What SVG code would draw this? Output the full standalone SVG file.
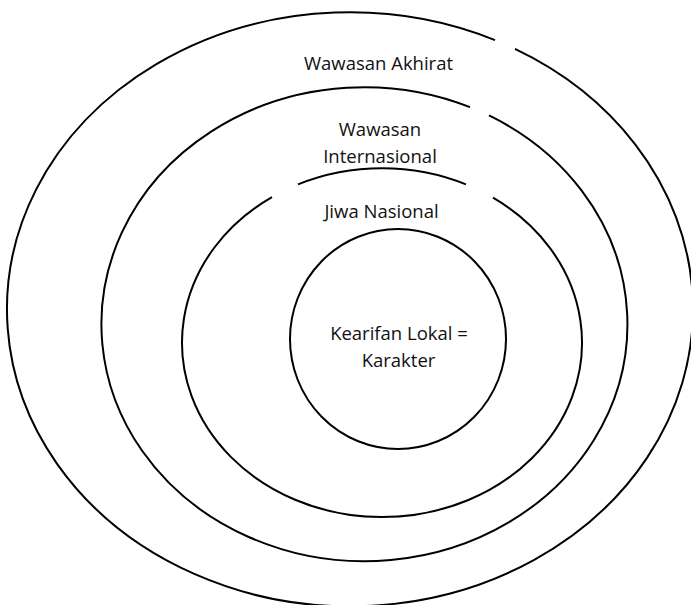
<svg xmlns="http://www.w3.org/2000/svg" width="691" height="605" viewBox="0 0 691 605">
  <style>
    .ring { fill: none; stroke: #000; stroke-width: 2; }
    .lbl { font-family: "Open Sans", "Liberation Sans", sans-serif; font-size: 18.5px; fill: #111; text-anchor: middle; }
  </style>
  <rect width="691" height="605" fill="#fff"/>
  <g id="wawasan-akhirat">
    <path class="ring" d="M 515 48.92 A 343 297 0 1 1 495 40.14"/>
    <text class="lbl" x="378.5" y="70">Wawasan Akhirat</text>
  </g>
  <g id="wawasan-internasional">
    <path class="ring" d="M 489 115.44 A 263 237 0 1 1 470 107.10"/>
    <text class="lbl" x="380" y="136">Wawasan</text>
    <text class="lbl" x="380" y="163">Internasional</text>
  </g>
  <g id="jiwa-nasional">
    <path class="ring" d="M 298.07 184.4 A 200 174.4 0 0 1 465.93 184.4"/>
    <path class="ring" d="M 493 197.62 A 200 174.4 0 1 1 272 197.05"/>
    <text class="lbl" x="381.5" y="218">Jiwa Nasional</text>
  </g>
  <g id="kearifan-lokal">
    <ellipse class="ring" cx="398" cy="339" rx="108" ry="110"/>
    <text class="lbl" x="399" y="340">Kearifan Lokal =</text>
    <text class="lbl" x="398.5" y="367">Karakter</text>
  </g>
</svg>
